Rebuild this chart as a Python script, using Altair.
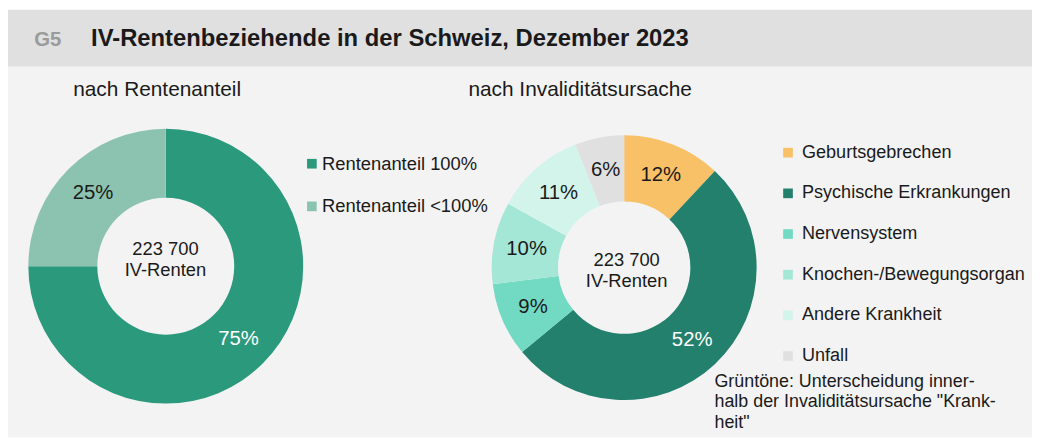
import altair as alt
import pandas as pd

FONT = "Liberation Sans, Arial, Helvetica, sans-serif"

# ---------------- data ----------------
rent_cats = ["Rentenanteil 100%", "Rentenanteil <100%"]
rent_vals = [75, 25]
rent_colors = ["#2a997c", "#8bc3b0"]
rent_label_colors = ["#ffffff", "#1a1a1a"]

cause_cats = ["Geburtsgebrechen", "Psychische Erkrankungen", "Nervensystem",
              "Knochen-/Bewegungsorgan", "Andere Krankheit", "Unfall"]
cause_vals = [12, 52, 9, 10, 11, 6]
cause_colors = ["#f8c067", "#22806c", "#72d9c3", "#a4e7d7", "#d3f4eb", "#e0e0e0"]
cause_label_colors = ["#1a1a1a", "#ffffff", "#1a1a1a", "#1a1a1a", "#1a1a1a", "#1a1a1a"]

total_label = "223 700\nIV-Renten"
header_code = "G5"
header_title = "IV-Rentenbeziehende in der Schweiz, Dezember 2023"
sub_titles = ["nach Rentenanteil", "nach Invaliditätsursache"]
note_text = 'Grüntöne: Unterscheidung inner-\nhalb der Invaliditätsursache "Krank-\nheit"'

rent_df = pd.DataFrame({
    "cat": rent_cats, "value": rent_vals, "order": list(range(len(rent_cats))),
    "label": [f"{v}%" for v in rent_vals], "tcolor": rent_label_colors,
})
cause_df = pd.DataFrame({
    "cat": cause_cats, "value": cause_vals, "order": list(range(len(cause_cats))),
    "label": [f"{v}%" for v in cause_vals], "tcolor": cause_label_colors,
})
one = pd.DataFrame({"t": [""]})

W, H = 1032, 431
L_CX, L_CY, L_RO, L_RI = 159, 258.5, 138.5, 69
R_CX, R_CY, R_RO, R_RI = 621, 260, 133.5, 66.7

# ---------------- background ----------------
bg_light = alt.Chart(one).mark_rect(color="#f3f3f3").encode(
    x=alt.value(0), x2=alt.value(W), y=alt.value(57), y2=alt.value(H))
bg_head = alt.Chart(one).mark_rect(color="#e0e0e0").encode(
    x=alt.value(0), x2=alt.value(W), y=alt.value(0), y2=alt.value(57.3))

head_code = alt.Chart(pd.DataFrame({"t": [header_code]})).mark_text(
    align="left", baseline="alphabetic", font=FONT, fontSize=20.5, fontWeight="bold",
    color="#9b9b9b").encode(x=alt.value(26.5), y=alt.value(36.5), text="t:N")
head_title = alt.Chart(pd.DataFrame({"t": [header_title]})).mark_text(
    align="left", baseline="alphabetic", font=FONT, fontSize=24, fontWeight="bold",
    color="#1a1a1a").encode(x=alt.value(83.7), y=alt.value(36.5), text="t:N")

sub1 = alt.Chart(pd.DataFrame({"t": [sub_titles[0]]})).mark_text(
    align="center", baseline="alphabetic", font=FONT, fontSize=21, color="#1a1a1a"
).encode(x=alt.value(150.3), y=alt.value(87), text="t:N")
sub2 = alt.Chart(pd.DataFrame({"t": [sub_titles[1]]})).mark_text(
    align="center", baseline="alphabetic", font=FONT, fontSize=21, color="#1a1a1a"
).encode(x=alt.value(576.6), y=alt.value(87), text="t:N")

# ---------------- donuts ----------------
def legend(x, y, row_pad, offset, fs):
    return alt.Legend(orient="none", legendX=x, legendY=y, title=None,
                      symbolType="square", symbolSize=95, symbolStrokeWidth=0,
                      labelFont=FONT, labelFontSize=fs, labelColor="#1a1a1a",
                      labelOffset=offset, rowPadding=row_pad, padding=0,
                      labelLimit=400)

left_arc = alt.Chart(rent_df).mark_arc(outerRadius=L_RO, innerRadius=L_RI).encode(
    theta=alt.Theta("value:Q", stack=True),
    order=alt.Order("order:Q"),
    color=alt.Color("cat:N", sort=rent_cats,
                    scale=alt.Scale(domain=rent_cats, range=rent_colors),
                    legend=legend(297, 146, 24, 1, 18.5)),
    x=alt.value(L_CX), y=alt.value(L_CY))
left_txt = alt.Chart(rent_df).mark_text(
    radius=(L_RO + L_RI) / 2, font=FONT, fontSize=20.5, baseline="middle", align="center"
).encode(
    theta=alt.Theta("value:Q", stack=True),
    order=alt.Order("order:Q"),
    text="label:N",
    color=alt.Color("tcolor:N", scale=None),
    x=alt.value(L_CX), y=alt.value(L_CY))
left_center = alt.Chart(pd.DataFrame({"t": [total_label]})).mark_text(
    align="center", baseline="alphabetic", font=FONT, fontSize=18.5, lineHeight=20.5,
    lineBreak="\n", color="#1a1a1a").encode(x=alt.value(158.7), y=alt.value(247.5), text="t:N")

right_arc = alt.Chart(cause_df).mark_arc(outerRadius=R_RO, innerRadius=R_RI).encode(
    theta=alt.Theta("value:Q", stack=True),
    order=alt.Order("order:Q"),
    color=alt.Color("cat:N", sort=cause_cats,
                    scale=alt.Scale(domain=cause_cats, range=cause_colors),
                    legend=legend(777, 135, 22, 5, 18.2)),
    x=alt.value(R_CX), y=alt.value(R_CY))
right_txt = alt.Chart(cause_df).mark_text(
    radius=(R_RO + R_RI) / 2, font=FONT, fontSize=20.5, baseline="middle", align="center"
).encode(
    theta=alt.Theta("value:Q", stack=True),
    order=alt.Order("order:Q"),
    text="label:N",
    color=alt.Color("tcolor:N", scale=None),
    x=alt.value(R_CX), y=alt.value(R_CY))
right_center = alt.Chart(pd.DataFrame({"t": [total_label]})).mark_text(
    align="center", baseline="alphabetic", font=FONT, fontSize=18.5, lineHeight=20.5,
    lineBreak="\n", color="#1a1a1a").encode(x=alt.value(623.5), y=alt.value(258.7), text="t:N")

note = alt.Chart(pd.DataFrame({"t": [note_text]})).mark_text(
    align="left", baseline="alphabetic", font=FONT, fontSize=18, lineHeight=20.6,
    lineBreak="\n", color="#1a1a1a").encode(x=alt.value(712), y=alt.value(380.3), text="t:N")

chart = alt.layer(
    bg_light, bg_head, head_code, head_title, sub1, sub2,
    left_arc, left_txt, left_center,
    right_arc, right_txt, right_center, note,
).resolve_scale(color="independent", theta="independent").properties(
    width=W, height=H, padding=0, background="white",
    autosize=alt.AutoSizeParams(type="none"),
).configure_view(stroke=None)

chart.save("out.html", embed_options={"renderer": "svg", "actions": False})
